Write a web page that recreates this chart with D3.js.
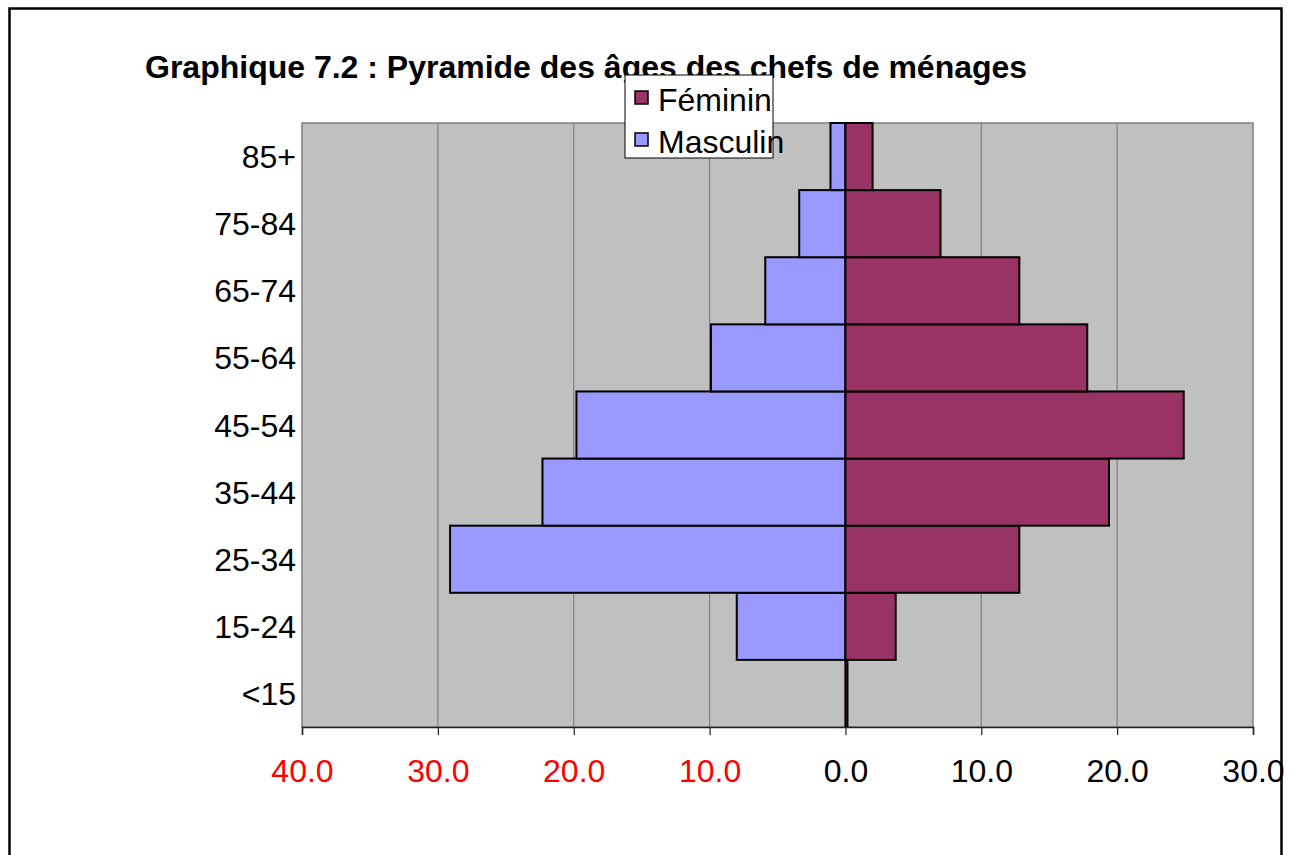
<!DOCTYPE html>
<html lang="fr">
  <head>
    <meta charset="UTF-8" />
    <title>Pyramide des âges des chefs de ménages</title>
    <script src="https://d3js.org/d3.v7.min.js"></script>
    <style>
      body {
        margin: 0;
        background: #fff;
        font-family: "Liberation Sans", Arial, sans-serif;
      }
    </style>
  </head>
  <body>
    <script>
      // age groups, bottom to top
      var ageGroups = ["<15", "15-24", "25-34", "35-44", "45-54", "55-64", "65-74", "75-84", "85+"];
      var masculin = [0, 8.0, 29.1, 22.3, 19.8, 9.9, 5.9, 3.4, 1.1];
      var feminin = [0.15, 3.7, 12.8, 19.4, 24.9, 17.8, 12.8, 7.0, 2.0];
      var xTicks = [-40, -30, -20, -10, 0, 10, 20, 30];

      var width = 1292,
        height = 855;
      var plot = { left: 302, right: 1253, top: 123, bottom: 727 };

      var svg = d3
        .select("body")
        .append("svg")
        .attr("width", width)
        .attr("height", height);

      // outer frame
      svg
        .append("rect")
        .attr("x", 9.5)
        .attr("y", 8.5)
        .attr("width", 1272)
        .attr("height", 900)
        .attr("fill", "none")
        .attr("stroke", "#000")
        .attr("stroke-width", 2.5);

      svg
        .append("text")
        .attr("x", 145)
        .attr("y", 78)
        .style("font-weight", "bold")
        .style("font-size", "32px")
        .text("Graphique 7.2 : Pyramide des âges  des chefs de ménages");

      var x = d3.scaleLinear().domain([-40, 30]).range([plot.left, plot.right]);
      var y = d3
        .scaleBand()
        .domain(ageGroups.slice().reverse())
        .range([plot.top, plot.bottom])
        .padding(0);

      svg
        .append("rect")
        .attr("x", plot.left)
        .attr("y", plot.top)
        .attr("width", plot.right - plot.left)
        .attr("height", plot.bottom - plot.top)
        .attr("fill", "#c0c0c0")
        .attr("stroke", "#808080")
        .attr("stroke-width", 1.5);

      // vertical gridlines
      svg
        .selectAll(".grid")
        .data(xTicks.slice(1, -1))
        .enter()
        .append("line")
        .attr("x1", function (d) { return x(d); })
        .attr("x2", function (d) { return x(d); })
        .attr("y1", plot.top)
        .attr("y2", plot.bottom)
        .attr("stroke", "#808080")
        .attr("stroke-width", 1.2);

      var rows = ageGroups.map(function (g, i) {
        return { group: g, m: masculin[i], f: feminin[i] };
      });

      svg
        .selectAll(".bar-m")
        .data(rows)
        .enter()
        .append("rect")
        .attr("x", function (d) { return x(-d.m); })
        .attr("y", function (d) { return y(d.group); })
        .attr("width", function (d) { return x(0) - x(-d.m); })
        .attr("height", y.bandwidth())
        .attr("fill", "#9999ff")
        .attr("stroke", "#000")
        .attr("stroke-width", 2);

      svg
        .selectAll(".bar-f")
        .data(rows)
        .enter()
        .append("rect")
        .attr("x", x(0))
        .attr("y", function (d) { return y(d.group); })
        .attr("width", function (d) { return x(d.f) - x(0); })
        .attr("height", y.bandwidth())
        .attr("fill", "#993366")
        .attr("stroke", "#000")
        .attr("stroke-width", 2);

      // x axis
      var xAxis = svg
        .append("g")
        .attr("transform", "translate(0," + plot.bottom + ")")
        .call(
          d3
            .axisBottom(x)
            .tickValues(xTicks)
            .tickSize(8)
            .tickFormat(function (d) { return Math.abs(d).toFixed(1); })
        );
      xAxis.select(".domain").attr("stroke", "#222").attr("stroke-width", 1.5);
      xAxis.selectAll(".tick line").attr("stroke", "#222").attr("stroke-width", 1.2);
      xAxis
        .selectAll(".tick text")
        .attr("y", 55)
        .attr("dy", 0)
        .style("font-family", "'Liberation Sans', Arial, sans-serif")
        .style("font-size", "32px")
        .attr("fill", function (d) { return d < 0 ? "#ff0000" : "#000"; });

      // y axis labels
      var yAxis = svg
        .append("g")
        .attr("transform", "translate(" + plot.left + ",0)")
        .call(d3.axisLeft(y).tickSize(0).tickPadding(6));
      yAxis.select(".domain").remove();
      yAxis
        .selectAll(".tick text")
        .attr("dy", "0.36em")
        .style("font-family", "'Liberation Sans', Arial, sans-serif")
        .style("font-size", "32px")
        .attr("fill", "#000");

      // legend
      var legend = svg.append("g").attr("transform", "translate(625,75)");
      legend
        .append("rect")
        .attr("width", 148)
        .attr("height", 83)
        .attr("fill", "#fff")
        .attr("stroke", "#000")
        .attr("stroke-width", 1);
      var legendItems = [
        { label: "Féminin", color: "#993366" },
        { label: "Masculin", color: "#9999ff" }
      ];
      legendItems.forEach(function (d, i) {
        legend
          .append("rect")
          .attr("x", 10)
          .attr("y", 16 + i * 42)
          .attr("width", 13)
          .attr("height", 13)
          .attr("fill", d.color)
          .attr("stroke", "#000")
          .attr("stroke-width", 1.5);
        legend
          .append("text")
          .attr("x", 33)
          .attr("y", 36 + i * 42)
          .style("font-size", "32px")
          .text(d.label);
      });
    </script>
  </body>
</html>
